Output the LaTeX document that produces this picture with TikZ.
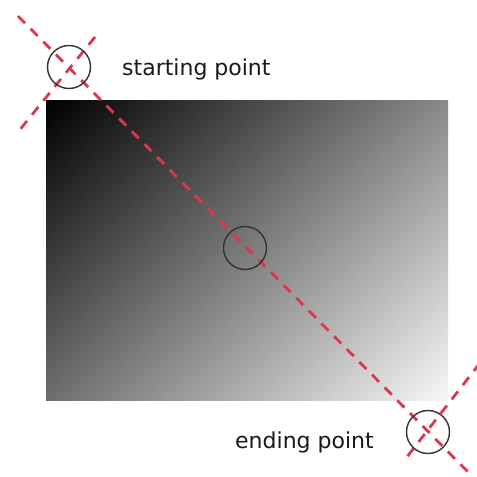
\documentclass[tikz,border=0pt]{standalone}
\usepackage{fontspec}
\setmainfont{DejaVu Sans}
\pgfdeclarefunctionalshading{diaggray}{\pgfpointorigin}{\pgfpoint{100bp}{100bp}}{}{
 25 sub 50 div 0.43 mul neg 0.43 add exch 25 sub 50 div 0.54 mul add dup dup
}
\definecolor{dashred}{RGB}{220,55,78}
\definecolor{txt}{RGB}{25,25,25}
\begin{document}
\begin{tikzpicture}[x=1pt,y=-1pt,
  ring/.style={circle,draw=black!80,line width=1.4pt,minimum size=43pt,inner sep=0pt},
  redline/.style={draw=dashred,line width=2.8pt,dash pattern=on 10pt off 8pt},
  label/.style={anchor=base west,text=txt,inner sep=0pt,font=\fontsize{22}{26}\selectfont}]
\useasboundingbox (0,0) rectangle (477,477);
\clip (0,0) rectangle (477,477);
\fill[white] (0,0) rectangle (477,477);
\shade[shading=diaggray] (46,100) rectangle (448,400);
% guide line coordinates
\coordinate (m1) at (18,16);
\coordinate (m2) at (470,474);
\coordinate (p1) at (95,37);
\coordinate (p2) at (18,132);
\coordinate (q1) at (480,363);
\coordinate (q2) at (403,462);
\draw[redline] (m1) -- (m2);
\draw[redline] (p1) -- (p2);
\draw[redline] (q1) -- (q2);
\node[ring] (s) at (69,67) {};
\node[ring] (c) at (245,248) {};
\node[ring] (e) at (428,432) {};
\node[label] (st) at (122,75) {starting point};
\node[label] (en) at (235,448) {ending point};
\end{tikzpicture}
\end{document}
